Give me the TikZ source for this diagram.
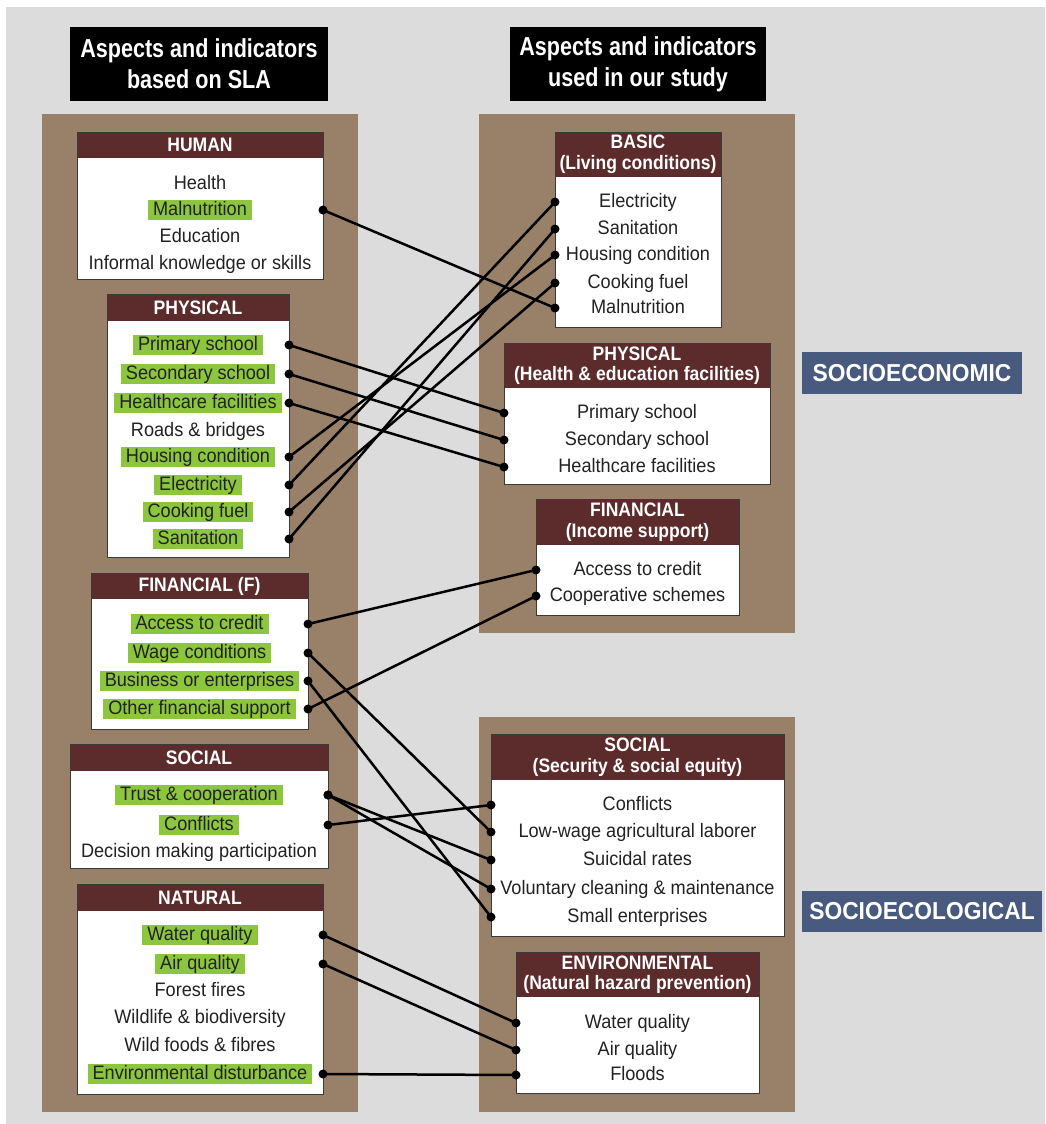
\documentclass[tikz,border=0pt]{standalone}
\usepackage{fontspec}
\setmainfont{Liberation Sans}
\newfontfamily\itemfont{Liberation Sans}[FakeStretch=0.93]
\newfontfamily\capfont{Liberation Sans}[FakeStretch=0.9]
\newfontfamily\titlefont{Liberation Sans}[FakeStretch=0.83]
\newfontfamily\sidefont{Liberation Sans}[FakeStretch=0.93]
\usetikzlibrary{fit}

\definecolor{bggray}{HTML}{DCDCDC}
\definecolor{panelbrown}{HTML}{998068}
\definecolor{headred}{HTML}{5C2B2B}
\definecolor{hlgreen}{HTML}{8CC63F}
\definecolor{bluelab}{HTML}{485A7E}
\definecolor{cardline}{HTML}{3A3A3A}
\definecolor{ink}{HTML}{222222}

\tikzset{
  panel/.style={fill=panelbrown, draw=none},
  card/.style={fill=white, draw=none, inner sep=0pt, outer sep=0pt},
  cardhead/.style={fill=headred, draw=none, inner sep=0pt, outer sep=0pt},
  headtext/.style={text=white, align=center, inner sep=0pt,
    font=\capfont\bfseries\fontsize{19.5}{20.5}\selectfont},
  entry/.style={font=\itemfont\fontsize{19.5}{22}\selectfont, text=ink,
    text height=14pt, text depth=4pt, inner xsep=5pt, inner ysep=1.2pt},
  hl/.style={entry, fill=hlgreen},
  titlebox/.style={fill=black, inner sep=0pt, outer sep=0pt},
  titletext/.style={text=white, align=center, inner sep=0pt,
    font=\titlefont\bfseries\fontsize{26}{31}\selectfont},
  sidebox/.style={fill=bluelab, inner sep=0pt, outer sep=0pt},
  sidetext/.style={text=white, inner sep=0pt,
    font=\sidefont\bfseries\fontsize{24.5}{28}\selectfont},
  conn/.style={line width=2.5pt, draw=black},
}

% card: name, top-left corner, bottom-right corner, header bottom y, title
\newcommand\mkcard[7]{%
  \node[card, fit={(#2,#3) (#4,#5)}] (#1) {};
  \node[cardhead, fit={(#2,#3) (#4,#6)}] (#1H) {};
  \node[headtext] at (#1H.center) {#7};
  \draw[cardline, line width=1pt] (#1.north west) rectangle (#1.south east);
}
% connector with end dots
\newcommand\link[2]{%
  \draw[conn] (#1) -- (#2);
  \fill[black] (#1) circle (4.5pt);
  \fill[black] (#2) circle (4.5pt);
}

\begin{document}
\begin{tikzpicture}[x=1pt, y=-1pt]
\useasboundingbox (0,0) rectangle (1045,1124);
\fill[white] (0,0) rectangle (1045,1124);
\fill[bggray] (6,7) rectangle (1045,1124);

% column titles
\node[titlebox, fit={(70,27) (328,101)}] (tleft) {};
\node[titletext] at (tleft.center) {Aspects and indicators\\based on SLA};
\node[titlebox, fit={(510,27) (766,101)}] (tright) {};
\node[titletext] at (tright.center) {Aspects and indicators\\used in our study};

% panels
\fill[panel] (42,114) rectangle (358,1112);
\fill[panel] (479,114) rectangle (795,633);
\fill[panel] (479,717) rectangle (795,1112);

% side labels
\node[sidebox, fit={(802,352) (1022,394)}] (econ) {};
\node[sidetext] at (econ.center) {SOCIOECONOMIC};
\node[sidebox, fit={(802,891) (1042,932)}] (ecol) {};
\node[sidetext] at (ecol.center) {SOCIOECOLOGICAL};

% ---- left column ----
\mkcard{human}{77}{132}{323}{279}{158}{HUMAN}
\node[entry] (hHea) at (200,184) {Health};
\node[hl]    (hMal) at (200,210) {Malnutrition};
\node[entry] (hEdu) at (200,237) {Education};
\node[entry] (hInf) at (200,264) {Informal knowledge or skills};

\mkcard{physL}{107}{294}{289}{557}{321}{PHYSICAL}
\node[hl]    (pPri) at (198,345) {Primary school};
\node[hl]    (pSec) at (198,374) {Secondary school};
\node[hl]    (pHea) at (198,403) {Healthcare facilities};
\node[entry] (pRoa) at (198,431) {Roads \& bridges};
\node[hl]    (pHou) at (198,457) {Housing condition};
\node[hl]    (pEle) at (198,485) {Electricity};
\node[hl]    (pCoo) at (198,512) {Cooking fuel};
\node[hl]    (pSan) at (198,539) {Sanitation};

\mkcard{finL}{91}{573}{308}{729}{599}{FINANCIAL (F)}
\node[hl] (fAcc) at (199.5,624) {Access to credit};
\node[hl] (fWag) at (199.5,653) {Wage conditions};
\node[hl] (fBus) at (199.5,681) {Business or enterprises};
\node[hl] (fOth) at (199.5,709) {Other financial support};

\mkcard{socL}{70}{744}{328}{868}{771}{SOCIAL}
\node[hl]    (sTru) at (199,795) {Trust \& cooperation};
\node[hl]    (sCon) at (199,825) {Conflicts};
\node[entry] (sDec) at (199,852) {Decision making participation};

\mkcard{natL}{77}{884}{323}{1094}{911}{NATURAL}
\node[hl]    (nWat) at (200,935) {Water quality};
\node[hl]    (nAir) at (200,964) {Air quality};
\node[entry] (nFor) at (200,991) {Forest fires};
\node[entry] (nWil) at (200,1018) {Wildlife \& biodiversity};
\node[entry] (nFoo) at (200,1046) {Wild foods \& fibres};
\node[hl]    (nEnv) at (200,1074) {Environmental disturbance};

% ---- right column ----
\mkcard{basic}{555}{132}{721}{327}{177}{BASIC\\(Living conditions)}
\node[entry] (bEle) at (638,202) {Electricity};
\node[entry] (bSan) at (638,229) {Sanitation};
\node[entry] (bHou) at (638,255) {Housing condition};
\node[entry] (bCoo) at (638,283) {Cooking fuel};
\node[entry] (bMal) at (638,308) {Malnutrition};

\mkcard{physR}{504}{343}{770}{484}{388}{PHYSICAL\\(Health \& education facilities)}
\node[entry] (rPri) at (637,413) {Primary school};
\node[entry] (rSec) at (637,440) {Secondary school};
\node[entry] (rHea) at (637,467) {Healthcare facilities};

\mkcard{finR}{536}{499}{739}{615}{545}{FINANCIAL\\(Income support)}
\node[entry] (frAcc) at (637.5,570) {Access to credit};
\node[entry] (frCoo) at (637.5,596) {Cooperative schemes};

\mkcard{socR}{491}{734}{784}{936}{780}{SOCIAL\\(Security \& social equity)}
\node[entry] (srCon) at (637.5,805) {Conflicts};
\node[entry] (sLow)  at (637.5,832) {Low-wage agricultural laborer};
\node[entry] (sSui)  at (637.5,860) {Suicidal rates};
\node[entry] (sVol)  at (637.5,889) {Voluntary cleaning \& maintenance};
\node[entry] (sSma)  at (637.5,917) {Small enterprises};

\mkcard{env}{516}{952}{759}{1093}{997}{ENVIRONMENTAL\\(Natural hazard prevention)}
\node[entry] (eWat) at (637.5,1023) {Water quality};
\node[entry] (eAir) at (637.5,1050) {Air quality};
\node[entry] (eFlo) at (637.5,1075) {Floods};

% ---- connectors ----
\link{human.east |- hMal}{basic.west |- bMal}
\link{physL.east |- pPri}{physR.west |- rPri}
\link{physL.east |- pSec}{physR.west |- rSec}
\link{physL.east |- pHea}{physR.west |- rHea}
\link{physL.east |- pHou}{basic.west |- bHou}
\link{physL.east |- pEle}{basic.west |- bEle}
\link{physL.east |- pCoo}{basic.west |- bCoo}
\link{physL.east |- pSan}{basic.west |- bSan}
\link{finL.east |- fAcc}{finR.west |- frAcc}
\link{finL.east |- fOth}{finR.west |- frCoo}
\link{finL.east |- fWag}{socR.west |- sLow}
\link{finL.east |- fBus}{socR.west |- sSma}
\link{socL.east |- sTru}{socR.west |- sSui}
\link{socL.east |- sTru}{socR.west |- sVol}
\link{socL.east |- sCon}{socR.west |- srCon}
\link{natL.east |- nWat}{env.west |- eWat}
\link{natL.east |- nAir}{env.west |- eAir}
\link{natL.east |- nEnv}{env.west |- eFlo}
\end{tikzpicture}
\end{document}
